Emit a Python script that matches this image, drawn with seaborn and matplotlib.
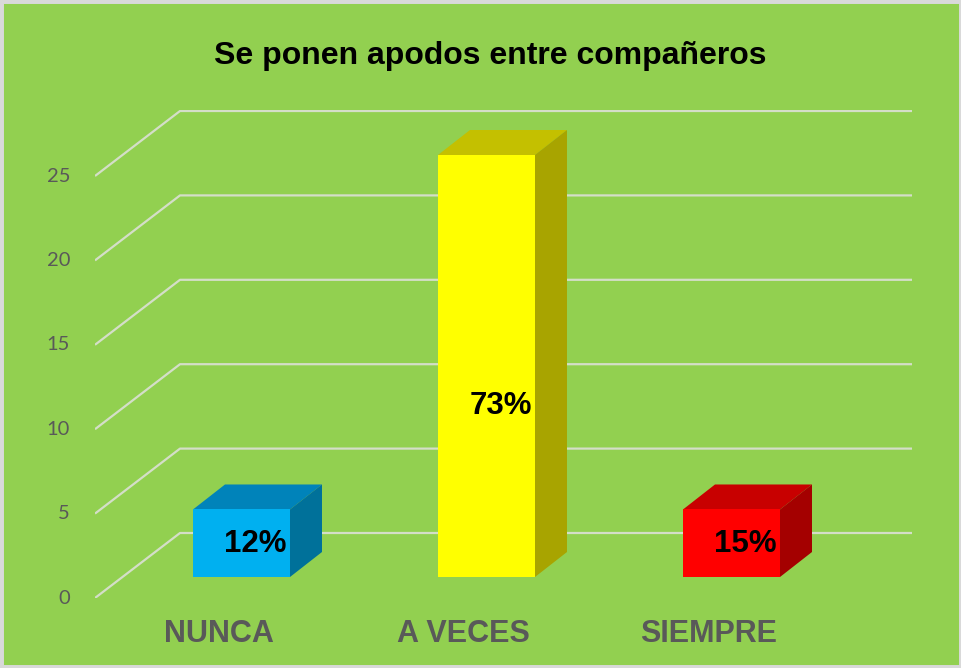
import numpy as np
import seaborn as sns
import matplotlib.pyplot as plt
from matplotlib.patches import Polygon, Rectangle

# datos del grafico
categorias = ['NUNCA', 'A VECES', 'SIEMPRE']
valores = [4, 25, 4]
porcentajes = ['12%', '73%', '15%']
ticks_y = [0, 5, 10, 15, 20, 25]
titulo = 'Se ponen apodos entre compañeros'

# colores (frente, arriba, lado)
col_frente = ['#00B0F0', '#FFFF00', '#FF0000']
col_arriba = ['#0083BA', '#C4C000', '#C80000']
col_lado = ['#00719A', '#A8A400', '#A40000']
verde = '#92D050'
gris_linea = '#D4DEC8'

sns.set_theme(style='white')
plt.rcParams['font.family'] = ['Liberation Sans', 'DejaVu Sans']

fig = plt.figure(figsize=(9.62, 6.68), dpi=100)
fig.patch.set_facecolor(verde)
fig.patches.append(Rectangle((0, 0), 1, 1, transform=fig.transFigure,
                             fill=False, edgecolor='#D9D9D9', linewidth=5))

# ejes en pixeles: x 95..912, y 598..110
ax = fig.add_axes([95 / 962, 1 - 598 / 668, 817 / 962, 488 / 668])
ax.set_facecolor('none')
px_x = 245.0     # pixeles por categoria
px_y = 16.88     # pixeles por unidad
x_min = -146.5 / px_x
x_max = x_min + 817 / px_x
y_min = -21 / px_y
y_max = y_min + 488 / px_y
ax.set_xlim(x_min, x_max)
ax.set_ylim(y_min, y_max)

# perspectiva del piso / pared de fondo
fondo_dx = 85 / px_x
fondo_dy = 65 / px_y
for v in ticks_y:
    y0 = v + y_min
    ax.plot([x_min, x_min + fondo_dx, x_max], [y0, y0 + fondo_dy, y0 + fondo_dy],
            color=gris_linea, lw=1.6, zorder=1, solid_capstyle='butt')
    ax.text(-25 / 817, y0, str(v), transform=ax.get_yaxis_transform(),
            ha='right', va='center', fontsize=14.5, color='#595959', family=['Lato', 'DejaVu Sans'])

# barras (cara frontal)
sns.barplot(x=categorias, y=valores, hue=categorias, palette=col_frente,
            width=97 / px_x, legend=False, ax=ax, zorder=3, saturation=1,
            linewidth=0)
ax.set_xlim(x_min, x_max)
ax.set_ylim(y_min, y_max)

prof_dx = 32 / px_x
prof_dy = 25 / px_y
for i, p in enumerate(ax.patches):
    x0, w, h = p.get_x(), p.get_width(), p.get_height()
    arriba = [(x0, h), (x0 + prof_dx, h + prof_dy), (x0 + w + prof_dx, h + prof_dy), (x0 + w, h)]
    lado = [(x0 + w, 0), (x0 + w + prof_dx, prof_dy), (x0 + w + prof_dx, h + prof_dy), (x0 + w, h)]
    ax.add_patch(Polygon(arriba, closed=True, facecolor=col_arriba[i], edgecolor='none', zorder=2))
    ax.add_patch(Polygon(lado, closed=True, facecolor=col_lado[i], edgecolor='none', zorder=2))
    ax.text(x0 + w / 2 + 14 / px_x, valores[i] * 0.39 + 0.4, porcentajes[i],
            ha='center', va='center', fontsize=22.5, fontweight='bold', color='black', zorder=5)

# etiquetas de categoria
for i, c in enumerate(categorias):
    ax.text(i - 23 / px_x, -57 / px_y, c, ha='center', va='center', fontsize=22,
            fontweight='bold', color='#595959', clip_on=False)

ax.set_axis_off()
fig.text(490 / 962, 1 - 56 / 668, titulo, ha='center', va='center',
         fontsize=23, fontweight='bold', color='black')

fig.savefig('out.png', dpi=100, facecolor=fig.get_facecolor())
